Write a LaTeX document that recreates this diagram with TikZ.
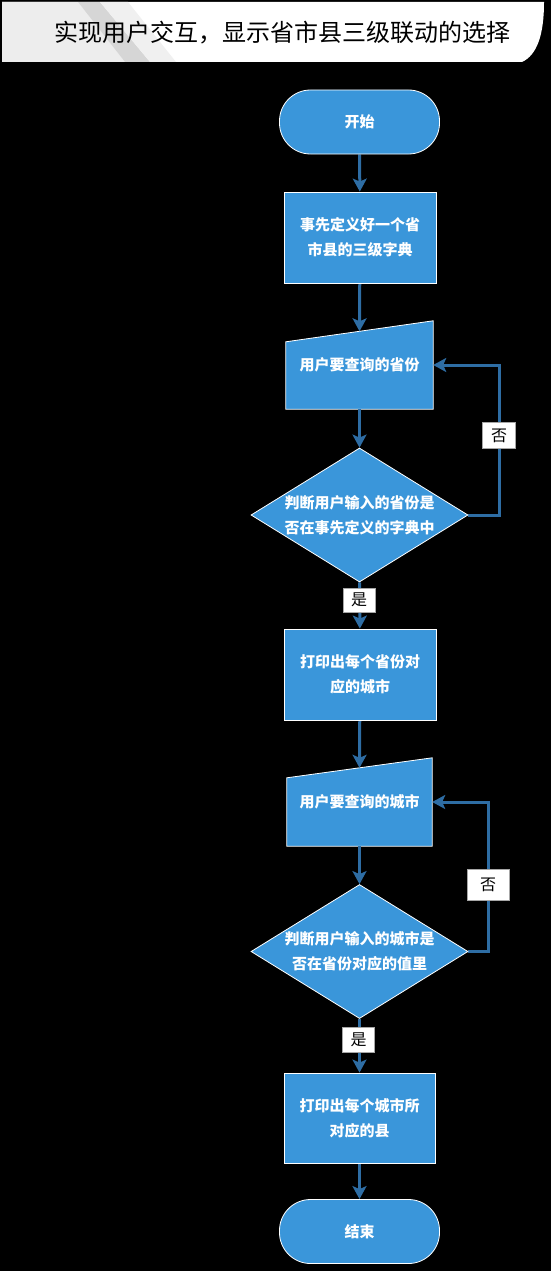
\documentclass[tikz,border=0pt]{standalone}
\usepackage{fontspec}
\newfontfamily\cjk{Noto Sans CJK SC}
\usetikzlibrary{shapes.geometric,arrows.meta,calc}
\definecolor{nodeblue}{HTML}{3A96DA}
\definecolor{arrowblue}{HTML}{2E6DA4}
\pgfdeclarelayer{back}\pgfdeclarelayer{bg}\pgfsetlayers{back,bg,main}
\tikzset{
  base/.style={fill=nodeblue, draw=white, line width=0.8pt, text=white,
    font=\cjk\bfseries\fontsize{15}{25}\selectfont, align=center, inner sep=0pt},
  term/.style={base, rectangle, rounded corners=31pt, minimum width=160pt, minimum height=64pt},
  proc/.style={base, rectangle, minimum width=152pt, minimum height=91pt},
  manual/.style={rectangle, text=white, font=\cjk\bfseries\fontsize{15}{25}\selectfont,
    inner sep=0pt, minimum height=88pt},
  mshape/.style={fill=nodeblue, draw=white, line width=0.8pt},
  dia/.style={base, diamond, minimum width=217pt, minimum height=134pt, inner sep=-5pt, aspect=1.6},
  lbl/.style={fill=white, draw=gray!70, line width=0.6pt, text=black,
    font=\cjk\fontsize{16}{16}\selectfont, inner sep=0pt},
  arr/.style={draw=arrowblue, line width=3pt, -{Stealth[length=13pt,width=14pt,inset=3pt]}}
}
\begin{document}
\begin{tikzpicture}[x=1pt,y=-1pt]
\begin{pgfonlayer}{back}
\fill[black] (0,0) rectangle (551,1271);
\end{pgfonlayer}
\useasboundingbox (0,0) rectangle (551,1271);
% title banner
\fill[white] (2,2) -- (544,2) .. controls (544,35) and (537,55) .. (522,62) -- (2,62) -- cycle;
\fill[gray!14] (2,2) -- (78,2) -- (125,62) -- (2,62) -- cycle;
\fill[gray!32] (78,2) -- (100,2) -- (150,62) -- (125,62) -- cycle;
\fill[gray!12] (100,2) -- (128,2) -- (176,62) -- (150,62) -- cycle;
\node (title) at (282,33) {\cjk\fontsize{24}{24}\selectfont 实现用户交互，显示省市县三级联动的选择};
% flow
\node[term] (start) at (359.5,122) {开始};
\node[proc] (b1) at (360,237.5) {事先定义好一个省\\市县的三级字典};
\node[manual, minimum width=147pt] (m1) at (359.5,365) {用户要查询的省份};
\node[dia] (d1) at (359.5,515) {判断用户输入的省份是\\否在事先定义的字典中};
\node[proc] (b2) at (360,674.5) {打印出每个省份对\\应的城市};
\node[manual, minimum width=145pt] (m2) at (359.5,802) {用户要查询的城市};
\node[dia] (d2) at (359.5,951.5) {判断用户输入的城市是\\否在省份对应的值里};
\node[proc, minimum width=151pt, minimum height=90pt] (b3) at (359.5,1118) {打印出每个城市所\\对应的县};
\node[term] (end) at (359.5,1231.5) {结束};
% labels
\node[lbl, minimum width=33pt, minimum height=26pt] (n1) at (499,435.5) {否};
\node[lbl, minimum width=32pt, minimum height=24pt] (y1) at (359,600) {是};
\node[lbl, minimum width=42pt, minimum height=31pt] (n2) at (488,884.5) {否};
\node[lbl, minimum width=32pt, minimum height=25pt] (y2) at (358.5,1040) {是};
\begin{pgfonlayer}{bg}
\filldraw[mshape] (m1.south west) -- (m1.south east) -- (m1.north east) -- ($(m1.north west)+(0,21)$) -- cycle;
\filldraw[mshape] (m2.south west) -- (m2.south east) -- (m2.north east) -- ($(m2.north west)+(0,20)$) -- cycle;
\coordinate (m1top) at ($(m1.north)+(0,10.5)$);
\coordinate (m2top) at ($(m2.north)+(0,10)$);
\draw[arr] (start) -- (b1);
\draw[arr] (b1) -- (m1top);
\draw[arr] (m1) -- (d1);
\draw[arr] (d1) -- (b2);
\draw[arr] (d1.east) -- (d1.east -| n1) -- (n1 |- m1.east) -- (m1.east);
\draw[arr] (b2) -- (m2top);
\draw[arr] (m2) -- (d2);
\draw[arr] (d2) -- (b3);
\draw[arr] (d2.east) -- (d2.east -| n2) -- (n2 |- m2.east) -- (m2.east);
\draw[arr] (b3) -- (end);
\end{pgfonlayer}
\end{tikzpicture}
\end{document}
